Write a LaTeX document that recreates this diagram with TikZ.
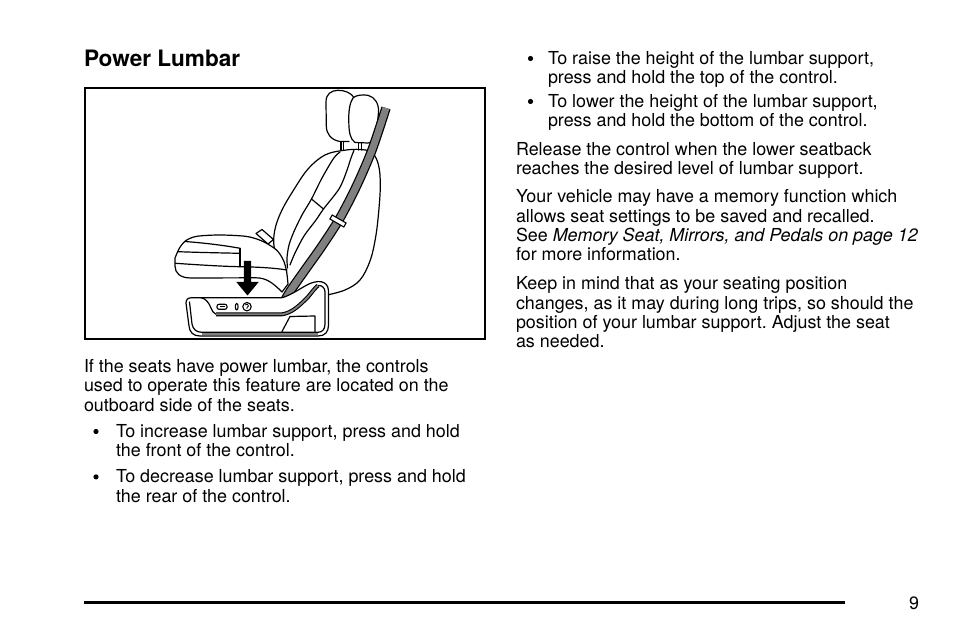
\documentclass[tikz,border=0pt]{standalone}
\usepackage{fontspec}
\setmainfont{TeX Gyre Heros}
\frenchspacing
\begin{document}
\begin{tikzpicture}[x=1pt,y=-1pt,
  txt/.style={anchor=base west, inner sep=0pt, outer sep=0pt, font=\fontsize{17.9}{19.4}\selectfont\frenchspacing},
  ttl/.style={anchor=base west, inner sep=0pt, outer sep=0pt, font=\fontsize{22.6}{24}\selectfont\bfseries},
  pgno/.style={anchor=base east, inner sep=0pt, outer sep=0pt, font=\fontsize{17.9}{19.4}\selectfont},
  bul/.style={circle, fill=black, inner sep=0pt, minimum size=5.2pt},
  sl/.style={line width=1.2pt, line cap=round, line join=round},
  framebox/.style={line width=2.2pt},
  pagerule/.style={line width=3pt},
  hatch/.style={black!50}]
\useasboundingbox (0,0) rectangle (954,636);
\fill[white] (0,0) rectangle (954,636);

% ---------- text, left column ----------
\node[ttl] (title) at (84,66.5) {Power Lumbar};
\node[txt] (l1) at (84,372.7) {If the seats have power lumbar, the controls};
\node[txt] (l2) at (84,392.0) {used to operate this feature are located on the};
\node[txt] (l3) at (84,411.3) {outboard side of the seats.};
\node[bul] (lb1) at (96,431.5) {};
\node[txt] (l4) at (116,437.3) {To increase lumbar support, press and hold};
\node[txt] (l5) at (116,456.7) {the front of the control.};
\node[bul] (lb2) at (96,476.9) {};
\node[txt] (l6) at (116,482.7) {To decrease lumbar support, press and hold};
\node[txt] (l7) at (116,502.0) {the rear of the control.};

% ---------- text, right column ----------
\node[bul] (rb1) at (530.5,58.5) {};
\node[txt] (r1) at (548,64.3) {To raise the height of the lumbar support,};
\node[txt] (r2) at (548,83.6) {press and hold the top of the control.};
\node[bul] (rb2) at (530.5,101.5) {};
\node[txt] (r3) at (548,107.3) {To lower the height of the lumbar support,};
\node[txt] (r4) at (548,126.6) {press and hold the bottom of the control.};
\node[txt] (r5) at (516,155.6) {Release the control when the lower seatback};
\node[txt] (r6) at (516,175.0) {reaches the desired level of lumbar support.};
\node[txt] (r7) at (516,203.0) {Your vehicle may have a memory function which};
\node[txt] (r8) at (516,222.3) {allows seat settings to be saved and recalled.};
\node[txt] (r9) at (516,241.7) {See \textit{Memory Seat, Mirrors, and Pedals on page 12}};
\node[txt] (r10) at (516,261.0) {for more information.};
\node[txt] (r11) at (516,290.0) {Keep in mind that as your seating position};
\node[txt] (r12) at (516,309.3) {changes, as it may during long trips, so should the};
\node[txt] (r13) at (516,328.7) {position of your lumbar support. Adjust the seat};
\node[txt] (r14) at (516,348.0) {as needed.};

% ---------- footer ----------
\draw[pagerule] (84,602) -- (845,602);
\node[pgno] (pg) at (919,609.5) {9};

% ---------- illustration frame ----------
\draw[framebox] (84.9,88.3) rectangle (485,339);

% seatback outline
\draw[sl] plot[smooth, tension=0.6] coordinates {(327,295) (345,290) (360,280) (370,261) (375.5,238) (378.7,211.7) (380.3,185) (378.5,165) (372,152.5) (360,149.5) (344,150.3) (325,155) (308,169) (293,191) (282,210) (275.5,227) (273.7,243) (277,256) (283,265) (286.5,272)};
% bolster lines
\draw[sl] plot[smooth] coordinates {(340,152) (333.5,158.5) (322,178) (311.5,199) (302,215) (294,231.5) (289,245) (287,258) (287.5,268)};
\draw[sl] plot[smooth] coordinates {(354,150.3) (351,158) (346,173) (339,189) (323.5,209) (316,220) (304,236) (295,253) (290,265)};
\draw[sl] (311.5,199) -- (323.5,209);

% headrest
\draw[sl] (349,141.5) -- (340,141.5) .. controls (331,140) and (326.5,134) .. (326.3,126) -- (326,102) .. controls (326,94) and (331,90.5) .. (338,90.3) .. controls (345,90.2) and (351,93) .. (354,97.5);
\draw[sl, fill=white] (353,98) .. controls (349.5,103) and (348.5,112) .. (348.8,122) .. controls (349,132) and (350,139) .. (355,142.5) -- (368,143) .. controls (373,142.5) and (376,140) .. (376.5,134) -- (378.5,112) .. controls (379,104) and (375,97) .. (368,95.3) .. controls (362,94.5) and (356,95) .. (353,98) -- cycle;
\draw[sl] (341,142) -- (341,150) (343.8,142) -- (343.8,150) (358.5,143) -- (358.5,150) (361.3,143) -- (361.3,150);

% buckle stalk
\draw[sl, fill=white] (256,233.5) -- (262,229.5) -- (273.5,239.5) -- (268,244) -- cycle;

% seat cushion
\draw[sl, fill=white] plot[smooth] coordinates {(175,258) (179.5,248) (186,240.5) (197,236.3) (220,235) (247,236.5) (263,241.5) (276.5,250) (283.3,260) (286.5,271) (288,284)} -- (282,292) .. controls (272,282) and (266,278) .. (256,277.8) -- (191,278) .. controls (180,278) and (175,273) .. (175,266) -- cycle;
\draw[sl] (185,241.5) .. controls (205,243) and (225,245.5) .. (240,248.3);
\draw[sl] (178,251.7) .. controls (200,252.5) and (225,253) .. (240,253.3);
\draw[sl] (240,248.3) -- (240,266.7);
\draw[sl] (175.5,263.3) .. controls (200,265) and (225,266.5) .. (240,266.7) .. controls (258,267) and (275,268) .. (287,270);

% seat belt
\draw[line width=9.5pt] plot[smooth] coordinates {(386,108) (372,150) (357,185) (340,218) (322,246) (305,270) (291,290) (284,302)};
\draw[line width=7pt, hatch] plot[smooth] coordinates {(386,108) (372,150) (357,185) (340,218) (322,246) (305,270) (291,290) (284,302)};
\node[draw, fill=white, line width=1.1pt, minimum width=16pt, minimum height=4.6pt, inner sep=0pt, rotate=-30] (slider) at (338,221) {};

% side trim
\draw[sl, fill=white] (186,303) .. controls (186,299.5) and (188,297.7) .. (192,297.7) -- (282,297.7) .. controls (292,295) and (302,287) .. (310,283.5) .. controls (315,281.5) and (321,280.5) .. (324.5,283) .. controls (327.5,285) and (328.5,288) .. (328.5,292) -- (328.5,325) .. controls (328.5,332) and (325,336) .. (318,336) -- (200,336) .. controls (193,336) and (189.5,332) .. (189,326) -- cycle;
\fill[hatch] (202,333) rectangle (318,335.4);
\draw[sl] (189.5,302) -- (192,324) .. controls (193,329) and (196,332.3) .. (202,332.3) -- (318,332.3) .. controls (322.5,332.3) and (325,329) .. (325,324) -- (325,292) .. controls (325,288) and (322,285) .. (318,285.5);
\draw[sl] (201,297.7) .. controls (206,298.5) and (209,303) .. (211,308) .. controls (212,311) and (213.5,313) .. (216,314.3);
\draw[line width=4pt] (216,314.3) -- (282,314.3) .. controls (292,313) and (300,305) .. (308,297) .. controls (312,292) and (315,288) .. (318,285.5);
\draw[line width=1.8pt, hatch] (216,314.3) -- (282,314.3) .. controls (292,313) and (300,305) .. (308,297) .. controls (312,292) and (315,288) .. (318,285.5);
\draw[sl] (282,331.5) -- (290,316.5) -- (315,316) -- (315,331.5);

% controls
\draw[line width=1.1pt, rounded corners=2pt] (217,304.3) rectangle (227,309.3);
\draw[line width=0.8pt] (219.5,306.8) -- (224.5,306.8);
\draw[line width=1.1pt] (236.7,306.7) ellipse (1.4 and 3.2);
\draw[line width=1.1pt] (247,306.7) circle (4.2);
\draw[line width=0.8pt] (245,305) .. controls (246,303.5) and (249,304) .. (248.5,306) -- (247,307.5) -- (247,309);

% arrow
\fill (243.8,261) -- (251.2,261) -- (251.2,282) -- (258.7,282) -- (247.5,295.5) -- (236.3,282) -- (243.8,282) -- cycle;
\end{tikzpicture}
\end{document}
